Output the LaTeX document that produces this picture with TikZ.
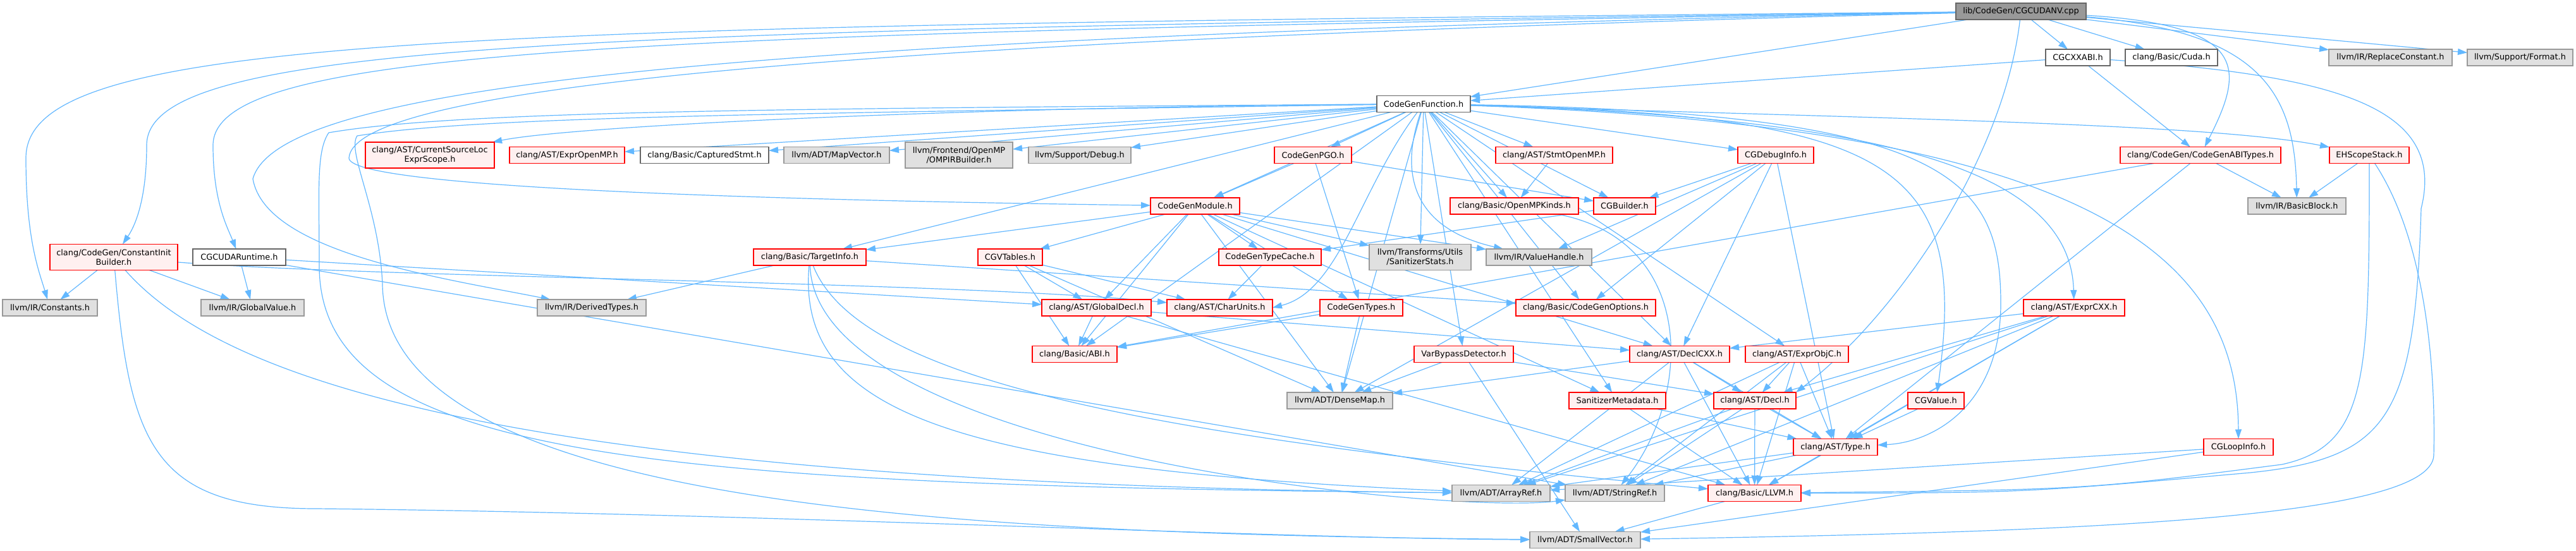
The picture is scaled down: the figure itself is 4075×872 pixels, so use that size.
\documentclass[tikz,border=0pt]{standalone}
\usepackage{fontspec}
\setmainfont{DejaVu Sans}
\usepackage{xcolor}
\usepackage{tikz}
\usetikzlibrary{arrows.meta,backgrounds}
\definecolor{wire}{HTML}{63B8FF}
\definecolor{rootfill}{HTML}{999999}
\definecolor{darkline}{HTML}{666666}
\definecolor{extfill}{HTML}{E0E0E0}
\definecolor{extline}{HTML}{999999}
\definecolor{truncfill}{HTML}{FFF0F0}
\definecolor{truncline}{HTML}{FF0000}
\tikzset{
  hfile/.style    = {rectangle, inner sep=0pt, outer sep=0pt, line width=1.3pt,
                     minimum height=26pt, align=center, text=black,
                     font=\fontsize{12.9}{15}\selectfont},
  rootbox/.style  = {hfile, draw=darkline, fill=rootfill},
  docbox/.style   = {hfile, draw=darkline, fill=white},
  extbox/.style   = {hfile, draw=extline,  fill=extfill},
  truncbox/.style = {hfile, draw=truncline, fill=truncfill},
  twoline/.style  = {minimum height=41pt},
  incl/.style     = {-{Triangle[length=15pt,width=10pt]}, draw=wire, line width=1.2pt},
}

\begin{document}
\begin{tikzpicture}[x=1pt,y=-1pt]
\path[use as bounding box] (0,0) rectangle (4075,872);

% ---------- the file and its direct neighbours ----------------------------
\node[rootbox,  minimum width=206pt] (root)   at (3197,18)     {lib/CodeGen/CGCUDANV.cpp};
\node[docbox,   minimum width=102pt] (cxxabi) at (3287,91)     {CGCXXABI.h};
\node[docbox,   minimum width=146pt] (cuda)   at (3435,91)     {clang/Basic/Cuda.h};
\node[extbox,   minimum width=195pt] (replc)  at (3781.5,91)   {llvm/IR/ReplaceConstant.h};
\node[extbox,   minimum width=167pt] (format) at (3986.5,91)   {llvm/Support/Format.h};
\node[docbox,   minimum width=148pt] (cgf)    at (2252,164.5)  {CodeGenFunction.h};

% ---------- row under CodeGenFunction.h -----------------------------------
\node[truncbox, twoline, minimum width=204pt] (csl) at (680,245.5) {clang/AST/CurrentSourceLoc\\ExprScope.h};
\node[truncbox, minimum width=182pt] (exomp)   at (897,245.5)    {clang/AST/ExprOpenMP.h};
\node[docbox,   minimum width=203pt] (capst)   at (1114.5,245.5) {clang/Basic/CapturedStmt.h};
\node[extbox,   minimum width=167pt] (mapv)    at (1323.5,245.5) {llvm/ADT/MapVector.h};
\node[extbox, twoline, minimum width=170pt] (omp) at (1517,245.5) {llvm/Frontend/OpenMP\\/OMPIRBuilder.h};
\node[extbox,   minimum width=162pt] (debug)   at (1708,245.5)   {llvm/Support/Debug.h};
\node[truncbox, minimum width=122pt] (pgo)     at (2077,245.5)   {CodeGenPGO.h};
\node[truncbox, minimum width=185pt] (stomp)   at (2458.5,245.5) {clang/AST/StmtOpenMP.h};
\node[truncbox, minimum width=120pt] (dbginfo) at (2809,245.5)   {CGDebugInfo.h};
\node[truncbox, minimum width=254pt] (abit)    at (3481,245.5)   {clang/CodeGen/CodeGenABITypes.h};
\node[truncbox, minimum width=126pt] (ehs)     at (3748,245.5)   {EHScopeStack.h};

\node[truncbox, minimum width=141pt] (cgm)     at (1890.5,326)   {CodeGenModule.h};
\node[truncbox, minimum width=203pt] (ompk)    at (2395.5,326)   {clang/Basic/OpenMPKinds.h};
\node[truncbox, minimum width=98pt]  (cgb)     at (2570,326)     {CGBuilder.h};
\node[extbox,   minimum width=155pt] (bb)      at (3633.5,326)   {llvm/IR/BasicBlock.h};

% ---------- middle rows ---------------------------------------------------
\node[truncbox, twoline, minimum width=202pt] (cib) at (180,407) {clang/CodeGen/ConstantInit\\Builder.h};
\node[docbox,   minimum width=147pt] (cudart)  at (378.5,407)    {CGCUDARuntime.h};
\node[truncbox, minimum width=178pt] (ti)      at (1281,407)     {clang/Basic/TargetInfo.h};
\node[truncbox, minimum width=102pt] (vt)      at (1598,407)     {CGVTables.h};
\node[truncbox, minimum width=162pt] (tc)      at (2009,407)     {CodeGenTypeCache.h};
\node[extbox, twoline, minimum width=161pt] (sstats) at (2246.5,407) {llvm/Transforms/Utils\\/SanitizerStats.h};
\node[extbox,   minimum width=167pt] (vh)      at (2434.5,407)   {llvm/IR/ValueHandle.h};

\node[extbox,   minimum width=150pt] (consts)  at (79,487)       {llvm/IR/Constants.h};
\node[extbox,   minimum width=163pt] (gv)      at (399.5,487)    {llvm/IR/GlobalValue.h};
\node[extbox,   minimum width=172pt] (dt)      at (936,487)      {llvm/IR/DerivedTypes.h};
\node[truncbox, minimum width=173pt] (gd)      at (1734.5,487)   {clang/AST/GlobalDecl.h};
\node[truncbox, minimum width=167pt] (cu)      at (1929.5,487)   {clang/AST/CharUnits.h};
\node[truncbox, minimum width=131pt] (cgt)     at (2153.5,487)   {CodeGenTypes.h};
\node[truncbox, minimum width=221pt] (cgo)     at (2508.5,487)   {clang/Basic/CodeGenOptions.h};
\node[truncbox, minimum width=160pt] (excxx)   at (3281,487)     {clang/AST/ExprCXX.h};

\node[truncbox, minimum width=134pt] (abi)     at (1700,560.5)   {clang/Basic/ABI.h};
\node[truncbox, minimum width=157pt] (vbd)     at (2315.5,560.5) {VarBypassDetector.h};
\node[truncbox, minimum width=158pt] (dcxx)    at (2657,560.5)   {clang/AST/DeclCXX.h};
\node[truncbox, minimum width=163pt] (exobjc)  at (2842.5,560.5) {clang/AST/ExprObjC.h};

% ---------- bottom rows ---------------------------------------------------
\node[extbox,   minimum width=167pt] (dm)      at (2119.5,634)   {llvm/ADT/DenseMap.h};
\node[truncbox, minimum width=153pt] (smd)     at (2558.5,634)   {SanitizerMetadata.h};
\node[truncbox, minimum width=130pt] (decl)    at (2776,634)     {clang/AST/Decl.h};
\node[truncbox, minimum width=89pt]  (cgv)     at (3062.5,634)   {CGValue.h};
\node[truncbox, minimum width=133pt] (type)    at (2903.5,707.5) {clang/AST/Type.h};
\node[truncbox, minimum width=110pt] (loop)    at (3541,707.5)   {CGLoopInfo.h};
\node[extbox,   minimum width=155pt] (ar)      at (2374.5,780.5) {llvm/ADT/ArrayRef.h};
\node[extbox,   minimum width=157pt] (sr)      at (2554.5,780.5) {llvm/ADT/StringRef.h};
\node[truncbox, minimum width=147pt] (llvm)    at (2775.5,780.5) {clang/Basic/LLVM.h};
\node[extbox,   minimum width=175pt] (sv)      at (2507.5,854.5) {llvm/ADT/SmallVector.h};

% ---------- include edges, under the boxes --------------------------------
\begin{scope}[on background layer]
\fill[white] (0,0) rectangle (4075,872);

% plain ones
\foreach \a/\b in {root/cgf, root/cxxabi, root/cuda, root/replc, root/format,
    cxxabi/cgf, cxxabi/abit, cudart/gv, cudart/gd, cudart/sr, cib/consts, cib/gv,
    cgf/exomp, cgf/capst, cgf/mapv, cgf/omp, cgf/debug, cgf/pgo, cgf/stomp,
    cgf/ompk, cgf/cgb, cgf/dbginfo, cgf/cgm, cgf/ti, cgf/sstats, cgf/dm, cgf/cgo,
    cgf/vbd, cgf/smd, cgf/abi, cgf/dcxx, cgf/exobjc,
    cgm/vt, cgm/tc, cgm/ti, cgm/gd, cgm/abi, cgm/cgt, cgm/dcxx, cgm/smd, cgm/vh,
    cgm/sstats, cgm/dm, pgo/cgm, pgo/cgb, pgo/cgt, stomp/ompk, cgb/tc,
    dbginfo/cgb, dbginfo/dcxx, dbginfo/type, dbginfo/cgo, dbginfo/dm, dbginfo/vh,
    abit/abi, abit/type, abit/bb, ehs/bb, ti/dt, ti/cgo, gd/abi, gd/dcxx, gd/llvm,
    vt/cu, vt/gd, vt/abi, vt/dm, tc/cu, cgt/abi, cgt/dm, vbd/dm, vbd/decl, vbd/sv,
    dcxx/decl, dcxx/type, dcxx/llvm, dcxx/ar, dcxx/dm,
    exobjc/decl, exobjc/type, exobjc/llvm, exobjc/ar, exobjc/sr,
    excxx/dcxx, excxx/decl, excxx/type, excxx/llvm, excxx/ar, excxx/sr,
    decl/type, decl/llvm, decl/ar, decl/sr, cgv/type, smd/llvm, smd/type,
    type/llvm, type/ar, type/sr, llvm/sv, loop/ar, loop/sv}
  \draw[incl] (\a) -- (\b);

% the long way round on the left
\draw[incl] (root) .. controls (700,42) and (41,55) .. (41,250)
                   .. controls (41,380) and (62,430) .. (consts);
\draw[incl] (root) .. controls (900,48) and (232,66) .. (232,230)
                   .. controls (232,320) and (212,360) .. (cib);
\draw[incl] (root) .. controls (1000,54) and (337,74) .. (337,230)
                   .. controls (337,320) and (360,360) .. (cudart);
\draw[incl] (root) .. controls (1100,60) and (440,140) .. (400,283)
                   .. controls (420,400) and (700,440) .. (dt);
\draw[incl] (root) .. controls (1300,66) and (560,140) .. (552,250)
                   .. controls (552,300) and (1300,318) .. (cgm);
\draw[incl] (root) .. controls (3170,250) and (3000,500) .. (decl.north east);
\draw[incl] (root) .. controls (3560,40) and (3550,110) .. (abit);
\draw[incl] (root) .. controls (3580,50) and (3630,150) .. (bb);

\draw[incl] (cib) .. controls (600,440) and (1500,445) .. (cu);
\draw[incl] (cib) .. controls (350,600) and (800,765) .. (ar);
\draw[incl] (cib) .. controls (205,700) and (240,805) .. (500,805)
                  .. controls (1200,812) and (2000,852) .. (sv);

\draw[incl] (cgf) .. controls (1500,170) and (900,200) .. (csl);
\draw[incl] (cgf) .. controls (1200,172) and (720,176) .. (520,210)
                  .. controls (500,240) and (505,300) .. (505,420)
                  .. controls (505,720) and (1000,768) .. (ar);
\draw[incl] (cgf) .. controls (1200,180) and (750,185) .. (565,215)
                  .. controls (548,240) and (600,330) .. (605,450)
                  .. controls (610,800) and (1500,845) .. (sv);
\draw[incl] (cgf) .. controls (2215,270) and (2230,360) .. (vh);
\draw[incl] (cgf) .. controls (2150,300) and (2120,460) .. (cu.east);

% fanning out to the right
\draw[incl] (cgf) .. controls (3000,188) and (3500,196) .. (ehs);
\draw[incl] (cgf) .. controls (2950,185) and (3275,260) .. (excxx);
\draw[incl] (cgf) .. controls (3000,182) and (3115,260) .. (cgv);
\draw[incl] (cgf) .. controls (3080,178) and (3165,280) .. (3165,480)
                  .. controls (3165,640) and (3060,700) .. (type);
\draw[incl] (cgf) .. controls (3300,200) and (3540,400) .. (loop);

\draw[incl] (ompk) .. controls (2680,380) and (2680,620) .. (sr);
\draw[incl] (ti) .. controls (1260,650) and (1500,742) .. (ar);
\draw[incl] (ti) .. controls (1290,720) and (2300,815) .. (sr);
\draw[incl] (ti) .. controls (1357,600) and (1800,690) .. (llvm);

% round the right-hand side
\draw[incl] (cxxabi) .. controls (3700,120) and (3870,170) .. (3830,330)
                     .. controls (3820,660) and (3780,725) .. (3560,748)
                     .. controls (3200,780) .. (llvm);
\draw[incl] (ehs) .. controls (3748,600) and (3745,705) .. (3610,735)
                  .. controls (3300,775) .. (llvm);
\draw[incl] (ehs) .. controls (3850,400) and (3852,640) .. (3850,720)
                  .. controls (3848,820) and (3300,842) .. (sv);
\end{scope}

\end{tikzpicture}
\end{document}
